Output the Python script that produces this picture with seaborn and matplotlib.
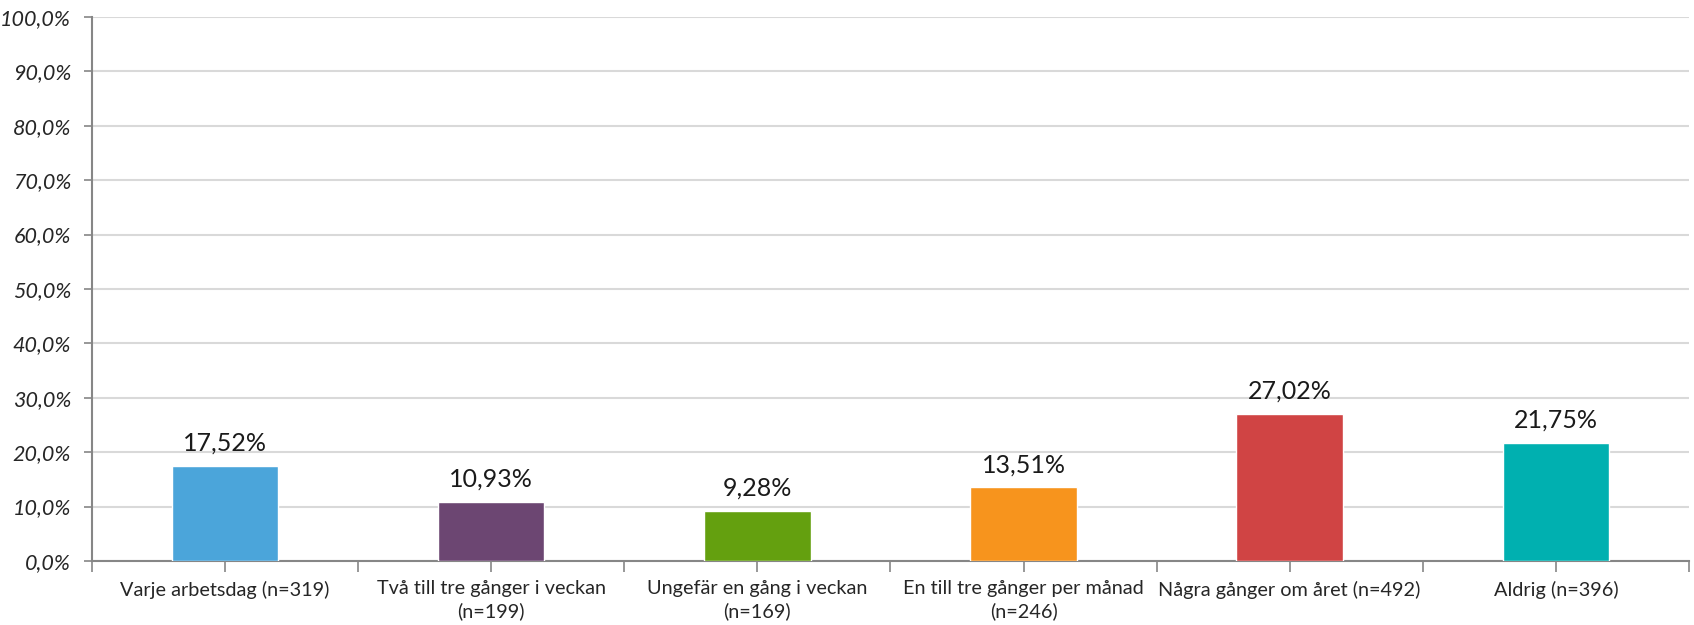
import numpy as np
import pandas as pd
import matplotlib
matplotlib.use("Agg")
import matplotlib.pyplot as plt
from matplotlib.ticker import FuncFormatter, MultipleLocator
import seaborn as sns

categories = [
    "Varje arbetsdag (n=319)",
    "Två till tre gånger i veckan\n(n=199)",
    "Ungefär en gång i veckan\n(n=169)",
    "En till tre gånger per månad\n(n=246)",
    "Några gånger om året (n=492)",
    "Aldrig (n=396)",
]
percent = [17.52, 10.93, 9.28, 13.51, 27.02, 21.75]
colors = ["#4BA5DA", "#6C4672", "#64A00F", "#F7941D", "#D04444", "#00B0B0"]

df = pd.DataFrame({"category": categories, "percent": percent})

sns.set_style("white")
plt.rcParams["font.family"] = ["Lato", "DejaVu Sans"]

fig, ax = plt.subplots(figsize=(16.94, 6.25), dpi=100)
fig.subplots_adjust(left=0.0543, right=0.997, top=0.973, bottom=0.1024)

sns.barplot(
    data=df,
    x="category",
    y="percent",
    hue="category",
    palette=colors,
    legend=False,
    width=0.4,
    saturation=1,
    ax=ax,
    zorder=3,
)

# value labels above bars
for cont in ax.containers:
    ax.bar_label(
        cont,
        labels=[f"{v:.2f}%".replace(".", ",") for v in cont.datavalues],
        padding=8,
        fontsize=18,
        color="#1a1a1a",
    )

ax.set_ylim(0, 100)
ax.set_xlim(-0.5, len(categories) - 0.5)
ax.yaxis.set_major_locator(MultipleLocator(10))
ax.yaxis.set_major_formatter(
    FuncFormatter(lambda v, p: f"{v:.1f}%".replace(".", ","))
)
ax.yaxis.grid(True, color="#D9D9D9", linewidth=1.5, zorder=0)
ax.set_axisbelow(True)

ax.set_xticks(range(len(categories)))
ax.set_xticklabels(categories, fontsize=14.3, linespacing=1.35)
ax.set_xticks(np.arange(-0.5, len(categories), 1.0), minor=True)
ax.tick_params(axis="x", which="both", direction="out", length=8,
               width=1.2, color="#868686", pad=6, bottom=True)
ax.tick_params(axis="y", direction="out", length=6, width=1.2,
               color="#868686", labelsize=15.5, left=True, pad=9)
for lab in ax.get_yticklabels():
    lab.set_fontstyle("italic")

for side in ["top", "right"]:
    ax.spines[side].set_visible(False)
for side in ["left", "bottom"]:
    ax.spines[side].set_color("#868686")
    ax.spines[side].set_linewidth(1.5)

ax.set_xlabel("")
ax.set_ylabel("")

fig.savefig("out.png", dpi=100)
